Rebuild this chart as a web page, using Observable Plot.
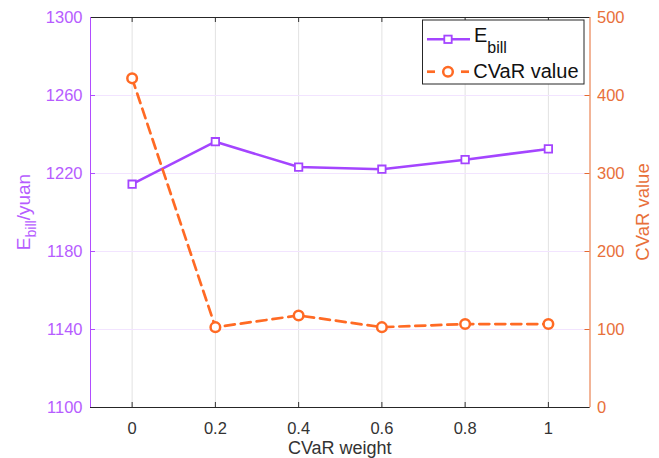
<!DOCTYPE html>
<html>
<head>
<meta charset="utf-8">
<script src="https://cdn.jsdelivr.net/npm/d3@7"></script>
<script src="https://cdn.jsdelivr.net/npm/@observablehq/plot@0.6"></script>
<style>
  html, body { margin: 0; padding: 0; background: white; }
  #chart svg { display: block; }
</style>
</head>
<body>
<div id="chart"></div>
<script>
// ---- data ----
const weights = [0, 0.2, 0.4, 0.6, 0.8, 1];
const ebill = [1214.5, 1236.3, 1223.3, 1222.2, 1227.1, 1232.6];
const cvarValue = [422, 103, 118, 103, 107, 107];
const xTicks = [0, 0.2, 0.4, 0.6, 0.8, 1];
const leftTicks = [1100, 1140, 1180, 1220, 1260, 1300];
const rightTicks = [0, 100, 200, 300, 400, 500];
const xDomain = [-0.1, 1.1];
const leftDomain = [1100, 1300];
const rightDomain = [0, 500];

// ---- styles ----
const purpleLine = "#a445ff";
const purpleAxis = "#b14dff";
const purpleText = "#b65cff";
const orangeLine = "#ff6a24";
const orangeAxis = "#e66a30";
const orangeText = "#e8703a";
const font = "'Liberation Sans', Arial, Helvetica, sans-serif";

// map right-axis values onto the left scale domain
const toLeft = v => leftDomain[0] + (v - rightDomain[0]) * (leftDomain[1] - leftDomain[0]) / (rightDomain[1] - rightDomain[0]);
const fromLeft = y => rightDomain[0] + (y - leftDomain[0]) * (rightDomain[1] - rightDomain[0]) / (leftDomain[1] - leftDomain[0]);

const eData = weights.map((w, i) => ({w, v: ebill[i]}));
const cData = weights.map((w, i) => ({w, v: toLeft(cvarValue[i])}));
const rightTickPos = rightTicks.map(toLeft);

const W = 659, H = 458;
const mL = 90, mR = 69.5, mT = 17, mB = 51;
const xPerPx = (xDomain[1] - xDomain[0]) / (W - mL - mR);
const yPerPx = (leftDomain[1] - leftDomain[0]) / (H - mT - mB);
const tickLen = 5;

const chart = Plot.plot({
  width: W, height: H,
  marginLeft: mL, marginRight: mR, marginTop: mT, marginBottom: mB,
  x: {domain: xDomain},
  y: {domain: leftDomain},
  style: {fontFamily: font, background: "white", overflow: "visible"},
  marks: [
    Plot.gridX(xTicks, {stroke: "#e2e2e2", strokeOpacity: 1}),
    Plot.gridY(leftTicks.slice(1, -1), {stroke: "#f2e4ff", strokeOpacity: 1}),
    Plot.axisX(xTicks, {tickSize: 0, tickPadding: 15, fontSize: 16.5, fill: "#333", label: null, tickFormat: d => String(d)}),
    Plot.axisY(leftTicks, {anchor: "left", tickSize: 0, tickPadding: 8, fontSize: 16.5, fill: purpleText, label: null, tickFormat: d => String(d)}),
    Plot.axisY(rightTickPos, {anchor: "right", tickSize: 0, tickPadding: 7, fontSize: 16.5, fill: orangeText, label: null, tickFormat: d => String(Math.round(fromLeft(d)))}),
    // inward ticks
    Plot.ruleX(xTicks, {y1: leftDomain[0], y2: leftDomain[0] + tickLen * yPerPx, stroke: "#333"}),
    Plot.ruleX(xTicks, {y1: leftDomain[1], y2: leftDomain[1] - tickLen * yPerPx, stroke: "#333"}),
    Plot.ruleY(leftTicks, {x1: xDomain[0], x2: xDomain[0] + tickLen * xPerPx, stroke: purpleAxis}),
    Plot.ruleY(rightTickPos, {x1: xDomain[1] - tickLen * xPerPx, x2: xDomain[1], stroke: orangeAxis}),
    // frame
    Plot.ruleY([leftDomain[0], leftDomain[1]], {stroke: "#262626"}),
    Plot.ruleX([xDomain[0]], {stroke: purpleAxis}),
    Plot.ruleX([xDomain[1]], {stroke: orangeAxis}),
    // series
    Plot.line(eData, {x: "w", y: "v", stroke: purpleLine, strokeWidth: 2.5}),
    Plot.dot(eData, {x: "w", y: "v", symbol: "square", r: 4.2, stroke: purpleLine, strokeWidth: 1.8, fill: "white"}),
    Plot.line(cData, {x: "w", y: "v", stroke: orangeLine, strokeWidth: 2.7, strokeDasharray: "10,6"}),
    Plot.dot(cData, {x: "w", y: "v", symbol: "circle", r: 4.8, stroke: orangeLine, strokeWidth: 2.5, fill: "white"})
  ]
});

document.getElementById("chart").appendChild(chart);

// ---- axis titles and legend ----
const svg = d3.select(chart);

svg.append("text")
  .attr("x", (mL + W - mR) / 2).attr("y", 454)
  .attr("text-anchor", "middle")
  .attr("font-family", font).attr("font-size", 18).attr("fill", "#333")
  .text("CVaR weight");

const lt = svg.append("text")
  .attr("transform", "translate(30,212) rotate(-90)")
  .attr("text-anchor", "middle")
  .attr("font-family", font).attr("font-size", 19).attr("fill", purpleText);
lt.append("tspan").text("E");
lt.append("tspan").attr("font-size", 14).attr("dy", 6).text("bill");
lt.append("tspan").attr("dy", -6).text("/yuan");

svg.append("text")
  .attr("transform", "translate(649,212) rotate(-90)")
  .attr("text-anchor", "middle")
  .attr("font-family", font).attr("font-size", 18.5).attr("fill", orangeText)
  .text("CVaR value");

const lg = svg.append("g").attr("text-anchor", "start");
lg.append("rect")
  .attr("x", 422.5).attr("y", 20).attr("width", 161.5).attr("height", 64)
  .attr("fill", "white").attr("stroke", "#262626").attr("stroke-width", 1);
lg.append("line").attr("x1", 427).attr("x2", 470).attr("y1", 39.3).attr("y2", 39.3)
  .attr("stroke", purpleLine).attr("stroke-width", 2.5);
lg.append("rect").attr("x", 448 - 3.7).attr("y", 39.3 - 3.7).attr("width", 7.4).attr("height", 7.4)
  .attr("fill", "white").attr("stroke", purpleLine).attr("stroke-width", 1.8);
const t1 = lg.append("text").attr("x", 474).attr("y", 42.3).attr("text-anchor", "start")
  .attr("font-family", font).attr("font-size", 20).attr("fill", "#111");
t1.append("tspan").text("E");
t1.append("tspan").attr("font-size", 16).attr("dy", 10.4).text("bill");

lg.append("line").attr("x1", 427).attr("x2", 435).attr("y1", 71.7).attr("y2", 71.7)
  .attr("stroke", orangeLine).attr("stroke-width", 2.7);
lg.append("line").attr("x1", 461).attr("x2", 469).attr("y1", 71.7).attr("y2", 71.7)
  .attr("stroke", orangeLine).attr("stroke-width", 2.7);
lg.append("circle").attr("cx", 448).attr("cy", 71.7).attr("r", 4.8)
  .attr("fill", "white").attr("stroke", orangeLine).attr("stroke-width", 2.5);
lg.append("text").attr("x", 473.3).attr("y", 78).attr("text-anchor", "start")
  .attr("font-family", font).attr("font-size", 20).attr("fill", "#111")
  .text("CVaR value");
</script>
</body>
</html>
